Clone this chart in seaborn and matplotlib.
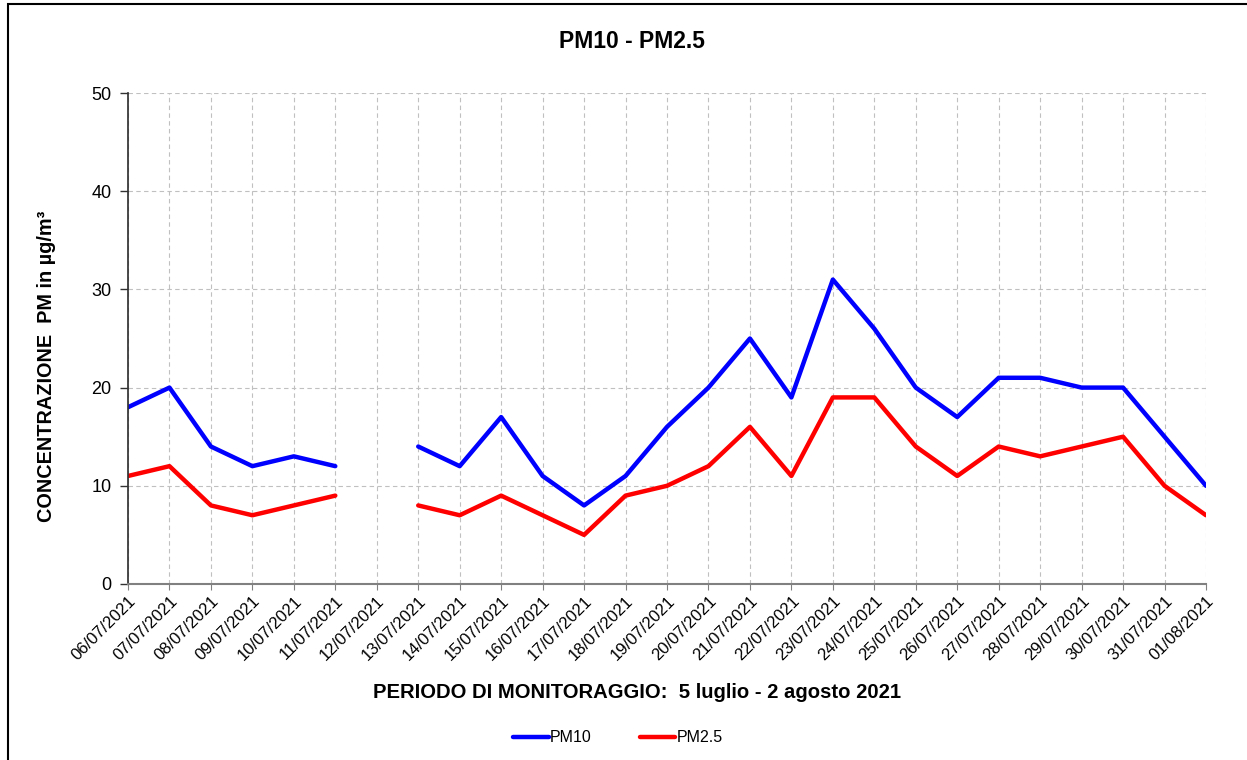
import matplotlib
matplotlib.use("Agg")
import matplotlib.pyplot as plt
from matplotlib.patches import Rectangle
import numpy as np
import pandas as pd
import seaborn as sns

sns.set_theme(style="white", rc={"text.color": "black", "axes.labelcolor": "black",
                                 "xtick.color": "black", "ytick.color": "black"})
plt.rcParams['font.family'] = ['Liberation Sans', 'DejaVu Sans']

# ----- dati -----
dates = ["06/07/2021", "07/07/2021", "08/07/2021", "09/07/2021", "10/07/2021",
         "11/07/2021", "12/07/2021", "13/07/2021", "14/07/2021", "15/07/2021",
         "16/07/2021", "17/07/2021", "18/07/2021", "19/07/2021", "20/07/2021",
         "21/07/2021", "22/07/2021", "23/07/2021", "24/07/2021", "25/07/2021",
         "26/07/2021", "27/07/2021", "28/07/2021", "29/07/2021", "30/07/2021",
         "31/07/2021", "01/08/2021"]
pm10 = [18, 20, 14, 12, 13, 12, np.nan, 14, 12, 17, 11, 8, 11, 16, 20, 25,
        19, 31, 26, 20, 17, 21, 21, 20, 20, 15, 10]
pm25 = [11, 12, 8, 7, 8, 9, np.nan, 8, 7, 9, 7, 5, 9, 10, 12, 16,
        11, 19, 19, 14, 11, 14, 13, 14, 15, 10, 7]
series_names = ["PM10", "PM2.5"]
colors = ["#0000ff", "#ff0000"]

# formato lungo, con segmenti separati dove manca il dato (12/07)
rows = []
for name, vals in zip(series_names, [pm10, pm25]):
    seg = 0
    for i, v in enumerate(vals):
        if np.isnan(v):
            seg += 1
            continue
        rows.append({"idx": i, "valore": v, "serie": name, "seg": f"{name}_{seg}"})
df = pd.DataFrame(rows)

fig = plt.figure(figsize=(12.47, 7.6), dpi=100)
ax = fig.add_axes([128 / 1247, 1 - 584 / 760, (1206 - 128) / 1247, (584 - 93) / 760])

sns.lineplot(data=df, x="idx", y="valore", hue="serie", units="seg",
             estimator=None, palette=dict(zip(series_names, colors)),
             linewidth=3.2, ax=ax, legend=False, sort=True)

ax.set_xlim(0, len(dates) - 1)
ax.set_ylim(0, 50)
ax.set_yticks([0, 10, 20, 30, 40, 50])
ax.set_xticks(range(len(dates)))
ax.set_xticklabels(dates, rotation=45, ha="right", rotation_mode="anchor", fontsize=12)
ax.tick_params(axis="y", labelsize=13, length=6, width=1, direction="out", left=True,
               pad=6, color="#333333")
ax.tick_params(axis="x", length=4, width=0.8, direction="out", bottom=True, pad=3,
               color="#808080")
ax.grid(True, color="#c0c0c0", linestyle=(0, (4, 3)), linewidth=0.8)
for s in ["top", "right"]:
    ax.spines[s].set_visible(False)
ax.spines["left"].set_color("#333333")
ax.spines["bottom"].set_color("#808080")
ax.spines["bottom"].set_linewidth(1.5)
ax.set_xlabel("")
ax.set_ylabel("")

fig.text(632 / 1247, 1 - 42 / 760, "PM10 - PM2.5", ha="center", va="center",
         fontsize=16.5, fontweight="bold")
fig.text(47 / 1247, 1 - 366 / 760, "CONCENTRAZIONE  PM in µg/m³", ha="center", va="center",
         rotation=90, fontsize=14.3, fontweight="bold")
fig.text(637 / 1247, 1 - 692 / 760, "PERIODO DI MONITORAGGIO:  5 luglio - 2 agosto 2021",
         ha="center", va="center", fontsize=14.6, fontweight="bold")

handles = [plt.Line2D([], [], color=c, linewidth=3.2, solid_capstyle="round") for c in colors]
fig.legend(handles, series_names, loc="center", bbox_to_anchor=(618 / 1247, 1 - 738 / 760),
           ncol=2, frameon=False, fontsize=11.5, handlelength=2.2, handletextpad=0.1,
           columnspacing=3.0)

# cornice del grafico
fig.patches.append(Rectangle((8 / 1247, -0.01), 1.0, 1 - 4 / 760 + 0.01,
                             transform=fig.transFigure, fill=False,
                             edgecolor="black", linewidth=1.5))

fig.savefig("out.png", dpi=100)
